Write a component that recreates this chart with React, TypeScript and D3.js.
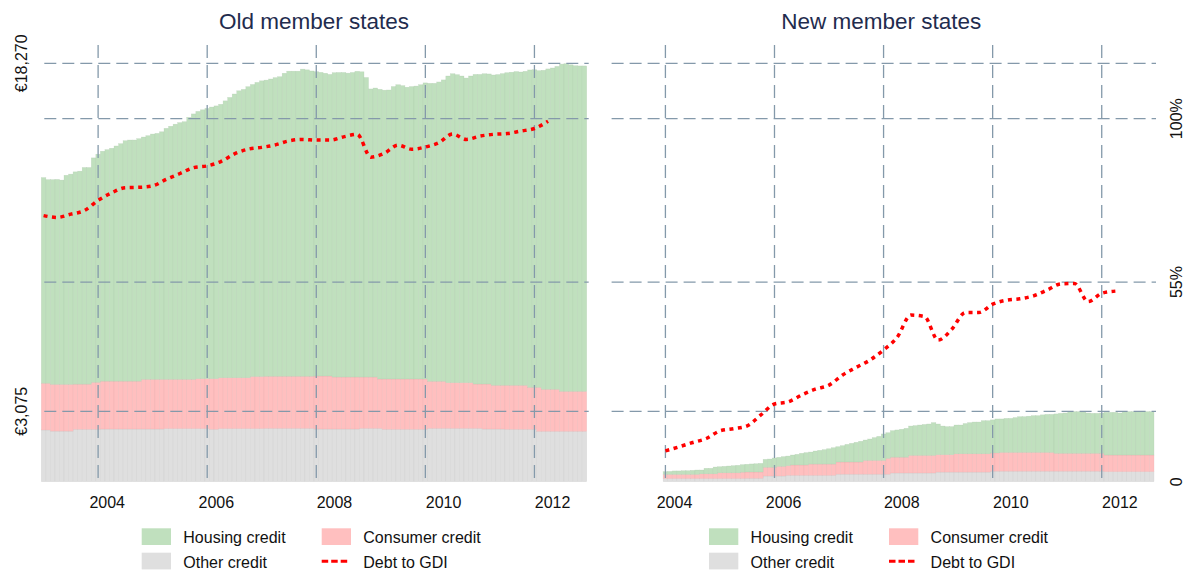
import React, { useEffect, useRef } from "react";
import * as d3 from "d3";

// monthly categories, Jan 2003 .. Dec 2012
const monthKeys = d3.range(120).map(i => `${2003 + Math.floor(i / 12)}-${String((i % 12) + 1).padStart(2, "0")}`);
const gridMonths = ["2004-01", "2006-01", "2008-01", "2010-01", "2012-01"];
const yearLabels = ["2004", "2006", "2008", "2010", "2012"];
const yearLabelMonths = ["2004-03", "2006-03", "2008-05", "2010-05", "2012-05"];
const euroTicks = [3075, 18270];
const pctGridTicks = [55, 100];
const pctLabelTicks = [0, 55, 100];
const pctLabels = ["0", "55%", "100%"];

// Old member states, per capita credit in euro, Jan 2003 .. Dec 2012
const oldOther = [
  2260, 2260, 2210, 2210, 2210, 2210, 2210, 2290, 2290, 2290, 2290, 2290,
  2290, 2300, 2300, 2300, 2300, 2300, 2300, 2300, 2300, 2300, 2300, 2300,
  2300, 2300, 2300, 2320, 2320, 2320, 2320, 2320, 2320, 2320, 2320, 2320,
  2320, 2290, 2290, 2320, 2320, 2320, 2320, 2320, 2320, 2320, 2320, 2320,
  2320, 2330, 2330, 2330, 2330, 2330, 2330, 2330, 2330, 2330, 2330, 2330,
  2300, 2300, 2300, 2300, 2300, 2300, 2300, 2300, 2300, 2300, 2330, 2330,
  2330, 2330, 2330, 2290, 2290, 2290, 2290, 2290, 2290, 2290, 2290, 2290,
  2290, 2330, 2330, 2330, 2330, 2330, 2330, 2330, 2330, 2330, 2330, 2330,
  2330, 2300, 2300, 2300, 2300, 2300, 2290, 2290, 2290, 2290, 2290, 2290,
  2290, 2200, 2200, 2200, 2200, 2200, 2200, 2200, 2200, 2200, 2200, 2200,
];
const oldConsumer = [
  2040, 2040, 2040, 2040, 2040, 2040, 2040, 1970, 1970, 1970, 1970, 2050,
  2050, 2090, 2090, 2090, 2090, 2090, 2090, 2090, 2090, 2090, 2170, 2170,
  2170, 2170, 2170, 2150, 2150, 2150, 2150, 2150, 2150, 2150, 2180, 2180,
  2180, 2210, 2210, 2220, 2220, 2220, 2220, 2220, 2220, 2220, 2275, 2275,
  2275, 2275, 2275, 2275, 2275, 2275, 2275, 2275, 2275, 2275, 2275, 2275,
  2315, 2315, 2315, 2315, 2270, 2270, 2270, 2270, 2270, 2270, 2240, 2240,
  2240, 2240, 2155, 2195, 2195, 2195, 2195, 2195, 2195, 2195, 2195, 2195,
  2195, 2055, 2055, 2055, 2055, 1995, 1995, 1995, 1995, 1995, 1995, 1935,
  1935, 1965, 1965, 1910, 1910, 1910, 1920, 1920, 1920, 1920, 1920, 1830,
  1830, 1920, 1835, 1835, 1835, 1835, 1745, 1745, 1745, 1745, 1745, 1745,
];
const oldHousing = [
  8980, 8890, 8940, 8950, 8920, 9130, 9180, 9270, 9300, 9460, 9460, 9800,
  9960, 10040, 10110, 10170, 10270, 10370, 10500, 10530, 10530, 10590, 10580, 10640,
  10710, 10740, 10810, 10960, 11050, 11140, 11210, 11250, 11440, 11590, 11670, 11740,
  11800, 11860, 11910, 11940, 12090, 12240, 12390, 12530, 12590, 12710, 12750, 12840,
  12910, 12930, 12980, 13040, 13080, 13230, 13320, 13320, 13320, 13410, 13380, 13330,
  13290, 13260, 13220, 13170, 13290, 13300, 13300, 13270, 13300, 13350, 13330, 13080,
  12580, 12620, 12650, 12610, 12620, 12770, 12850, 12810, 12740, 12770, 12790, 12850,
  12930, 13010, 13010, 13070, 13160, 13390, 13490, 13450, 13390, 13300, 13390, 13520,
  13520, 13550, 13540, 13550, 13570, 13610, 13650, 13670, 13700, 13680, 13710, 13860,
  13870, 13830, 13930, 13990, 14030, 14100, 14290, 14310, 14260, 14220, 14210, 14210,
];
// debt to GDI (%), quarterly from 2003 Q1
const oldDebtToGdi = [
  73.3, 72.8, 73.7, 74.7, 77.5, 79.6, 81.0, 81.1, 81.5, 83.3, 84.9, 86.5, 87.0,
  88.2, 90.3, 91.6, 92.1, 92.8, 93.9, 94.3, 94.1, 94.1, 95.0, 95.7, 89.4, 90.5,
  92.7, 91.6, 92.2, 93.4, 95.8, 94.3, 95.2, 95.7, 95.9, 96.6, 97.3, 99.3,
];

// New member states, Jan 2004 .. Dec 2012
const newOther = [
  140, 140, 140, 140, 140, 140, 140, 140, 140, 140, 140, 140,
  140, 140, 140, 140, 140, 140, 150, 150, 150, 150, 250, 250,
  250, 250, 250, 280, 280, 280, 280, 280, 280, 280, 280, 280,
  280, 280, 330, 330, 330, 330, 330, 330, 330, 330, 330, 330,
  330, 330, 380, 380, 380, 380, 380, 380, 380, 380, 380, 380,
  420, 420, 420, 420, 420, 420, 420, 420, 420, 420, 420, 420,
  460, 460, 460, 460, 460, 460, 460, 460, 460, 460, 460, 460,
  460, 460, 460, 460, 460, 460, 460, 460, 460, 460, 460, 460,
  460, 440, 440, 440, 440, 440, 440, 440, 440, 440, 440, 440,
];
const newConsumer = [
  180, 180, 180, 180, 180, 180, 180, 180, 205, 205, 205, 205,
  250, 250, 250, 250, 250, 275, 275, 275, 275, 275, 380, 380,
  380, 420, 420, 420, 450, 450, 450, 450, 490, 490, 490, 490,
  490, 490, 530, 530, 530, 530, 530, 530, 600, 600, 600, 600,
  600, 690, 690, 690, 690, 690, 770, 770, 770, 770, 770, 770,
  760, 760, 760, 760, 800, 800, 800, 800, 800, 800, 800, 800,
  800, 800, 820, 820, 820, 820, 820, 820, 820, 820, 820, 820,
  820, 820, 780, 780, 780, 780, 780, 780, 780, 780, 780, 780,
  780, 725, 725, 725, 725, 725, 725, 725, 725, 725, 725, 725,
];
const newHousing = [
  120, 130, 150, 150, 160, 160, 175, 190, 165, 240, 240, 295,
  265, 280, 295, 310, 325, 330, 335, 350, 360, 375, 345, 360,
  405, 395, 425, 420, 435, 465, 510, 540, 525, 570, 600, 630,
  670, 715, 670, 715, 770, 815, 860, 905, 890, 935, 995, 1050,
  1155, 1120, 1160, 1190, 1220, 1260, 1280, 1300, 1325, 1350, 1370, 1430,
  1340, 1250, 1225, 1225, 1255, 1255, 1320, 1360, 1385, 1385, 1445, 1445,
  1440, 1480, 1460, 1485, 1485, 1520, 1560, 1560, 1580, 1605, 1605, 1640,
  1660, 1660, 1720, 1745, 1760, 1820, 1820, 1820, 1800, 1760, 1745, 1745,
  1760, 1865, 1865, 1865, 1835, 1895, 1895, 1895, 1895, 1895, 1895, 1895,
];
// debt to GDI (%), quarterly from 2004 Q1
const newDebtToGdi = [
  8.5, 9.6, 10.8, 11.9, 14.0, 14.6, 15.4, 18.4, 21.4, 22.0, 23.9, 25.5,
  26.6, 29.4, 31.5, 33.5, 36.3, 39.8, 45.9, 45.5, 39.0, 42.0, 46.6, 46.6,
  48.9, 50.0, 50.4, 51.2, 52.8, 54.5, 54.6, 49.6, 51.9, 52.5,
];

const seriesKeys = ["other", "consumer", "housing"];
const colors = { housing: "#c0e0be", consumer: "#ffbfbf", other: "#dfdfdf", debt: "#ff0000" };
const gridColor = "#8499aa";
const font = "'Liberation Sans', Arial, Helvetica, sans-serif";

const panels = [
  { title: "Old member states", first: "2003-01", other: oldOther, consumer: oldConsumer, housing: oldHousing, debt: oldDebtToGdi, dx: 0 },
  { title: "New member states", first: "2004-01", other: newOther, consumer: newConsumer, housing: newHousing, debt: newDebtToGdi, dx: 567.3 },
];

const App = () => {
  const ref = useRef<SVGSVGElement>(null);

  useEffect(() => {
    const svg = d3.select(ref.current);
    svg.selectAll("*").remove();

    const top = 45, bottom = 482;
    const yEuro = d3.scaleLinear().domain([0, 18270]).range([481.7, 63.3]);
    const yPct = d3.scaleLinear().domain([0, 100]).range([481.7, 118.7]);

    panels.forEach(p => {
      const g = svg.append("g");
      const x = d3.scaleBand().domain(monthKeys).range([41.3 + p.dx, 586.7 + p.dx]);
      const bw = x.bandwidth();
      const cx = (m: string) => (x(m) as number) + bw / 2;
      const start = monthKeys.indexOf(p.first);

      const rows = p.other.map((o, j) => ({
        month: monthKeys[start + j], other: o, consumer: p.consumer[j], housing: p.housing[j],
      }));
      const stacked = d3.stack<any>().keys(seriesKeys)(rows);

      // stacked bars
      g.selectAll(".layer")
        .data(stacked)
        .enter().append("g")
        .attr("fill", d => colors[d.key])
        .attr("stroke", d => d3.color(colors[d.key])!.darker(0.35).formatHex())
        .attr("stroke-width", 0.5)
        .attr("stroke-opacity", 0.45)
        .selectAll("rect")
        .data(d => d)
        .enter().append("rect")
        .attr("x", d => x(d.data.month) as number)
        .attr("width", bw)
        .attr("y", d => yEuro(d[1]))
        .attr("height", d => yEuro(d[0]) - yEuro(d[1]));

      // gridlines
      const x0 = 41.3 + p.dx + 3, x1 = 586.7 + p.dx + 2;
      const hLines = euroTicks.map(v => yEuro(v)).concat(pctGridTicks.map(v => yPct(v)));
      g.selectAll(".hgrid")
        .data(hLines)
        .enter().append("line")
        .attr("x1", x0).attr("x2", x1)
        .attr("y1", d => d).attr("y2", d => d)
        .attr("stroke", gridColor).attr("stroke-width", 1.3)
        .attr("stroke-dasharray", "12,6");
      g.selectAll(".vgrid")
        .data(gridMonths)
        .enter().append("line")
        .attr("x1", d => cx(d)).attr("x2", d => cx(d))
        .attr("y1", top).attr("y2", bottom)
        .attr("stroke", gridColor).attr("stroke-width", 1.3)
        .attr("stroke-dasharray", "13,7");

      // debt to GDI line
      const line = d3.line<number>()
        .x((_, k) => cx(monthKeys[start + 3 * k]))
        .y(d => yPct(d))
        .curve(d3.curveMonotoneX);
      g.append("path")
        .datum(p.debt)
        .attr("d", line)
        .attr("fill", "none")
        .attr("stroke", colors.debt)
        .attr("stroke-width", 3.5)
        .attr("stroke-dasharray", "4,4.5");

      // year labels
      g.selectAll(".year")
        .data(yearLabels)
        .enter().append("text")
        .attr("x", (_, i) => cx(yearLabelMonths[i]))
        .attr("y", 508)
        .attr("text-anchor", "middle")
        .attr("font-size", 16)
        .attr("fill", "#111")
        .text(d => d);

      // title
      g.append("text")
        .attr("x", 314 + p.dx)
        .attr("y", 29)
        .attr("text-anchor", "middle")
        .attr("font-size", 22.5)
        .attr("fill", "#1f2c4e")
        .text(p.title);

      // legend
      const lg = g.append("g").attr("transform", `translate(${p.dx},0)`).attr("font-size", 16).attr("fill", "#111");
      const items = [
        { label: "Housing credit", key: "housing", x: 141.7, y: 528.3 },
        { label: "Other credit", key: "other", x: 141.7, y: 552.7 },
        { label: "Consumer credit", key: "consumer", x: 321.7, y: 528.3 },
        { label: "Debt to GDI", key: "debt", x: 321.7, y: 552.7 },
      ];
      items.forEach(it => {
        if (it.key === "debt") {
          lg.append("line")
            .attr("x1", it.x).attr("x2", it.x + 26)
            .attr("y1", it.y + 8.5).attr("y2", it.y + 8.5)
            .attr("stroke", colors.debt).attr("stroke-width", 3)
            .attr("stroke-dasharray", "6.5,3");
        } else {
          lg.append("rect")
            .attr("x", it.x).attr("y", it.y)
            .attr("width", 29.3).attr("height", 16.7)
            .attr("fill", colors[it.key]);
        }
        lg.append("text")
          .attr("x", it.x + 41.6)
          .attr("y", it.y + 15)
          .text(it.label);
      });
    });

    // left axis labels (euro)
    svg.selectAll(".ylab")
      .data(euroTicks)
      .enter().append("text")
      .attr("transform", d => `translate(27,${yEuro(d)}) rotate(-90)`)
      .attr("text-anchor", "middle")
      .attr("font-size", 16)
      .attr("fill", "#111")
      .text(d => "€" + d3.format(",")(d));

    // right axis labels (percent)
    svg.selectAll(".rlab")
      .data(pctLabelTicks)
      .enter().append("text")
      .attr("transform", d => `translate(1181.5,${yPct(d)}) rotate(-90)`)
      .attr("text-anchor", "middle")
      .attr("font-size", 16)
      .attr("fill", "#111")
      .text((_, i) => pctLabels[i]);
  });

  return (
    <svg
      ref={ref}
      width={1186}
      height={571}
      style={{ position: "absolute", left: 0, top: 0, background: "#fff", fontFamily: font }}
    />
  );
};

export default App;
